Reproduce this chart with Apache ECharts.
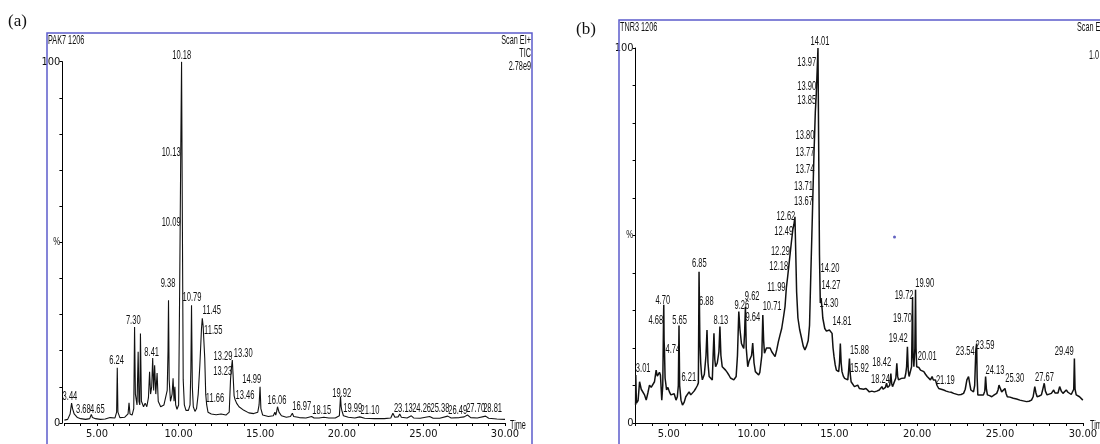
<!DOCTYPE html>
<html><head><meta charset="utf-8">
<script src="https://cdn.jsdelivr.net/npm/echarts@6/dist/echarts.min.js"></script>
<style>html,body{margin:0;padding:0;background:#fff}#c{width:1100px;height:444px}</style>
</head><body><div id="c"></div>
<script>
// ---- data: [retention time (min), relative abundance (%)] ----
const traceA = [
[3.0,0.8],[3.2,1.0],[3.35,2.5],[3.44,5.5],[3.5,4.0],[3.6,2.5],[3.68,2.0],[3.8,1.5],[4.0,1.2],[4.3,1.0],[4.55,1.2],[4.65,2.4],[4.72,1.5],[4.9,1.2],[5.2,1.0],[5.5,1.1],[5.8,1.5],[5.9,1.3],[6.1,1.4],[6.2,3],[6.24,15.3],[6.28,3],[6.4,1.5],[6.7,1.6],[6.9,2.5],[6.96,5.6],[7.02,2.5],[7.15,2.2],[7.25,4],[7.30,26.6],[7.35,8],[7.45,5],[7.52,19.7],[7.57,6],[7.62,5],[7.66,24.8],[7.72,6],[7.85,4.5],[7.95,5.5],[8.05,4.5],[8.15,7],[8.22,14.2],[8.28,8],[8.35,10],[8.41,18],[8.47,9],[8.53,16],[8.6,8],[8.68,13.8],[8.75,6],[8.9,4.5],[9.0,4],[9.1,5],[9.2,7],[9.3,9],[9.35,20],[9.38,34],[9.42,12],[9.5,6],[9.6,8],[9.66,12.4],[9.72,6],[9.77,10],[9.82,5],[9.9,3.8],[10.0,5],[10.05,30],[10.09,52],[10.13,75],[10.18,100],[10.23,55],[10.28,12],[10.35,5],[10.45,3.5],[10.6,3.5],[10.7,5],[10.75,15],[10.79,32.6],[10.84,10],[10.9,4.5],[11.0,3.2],[11.1,4],[11.2,8],[11.3,16],[11.4,26],[11.45,29],[11.5,27],[11.55,26.5],[11.6,18],[11.66,8],[11.72,5],[11.8,3],[12.0,2.5],[12.3,2.3],[12.6,2.5],[12.9,2.2],[13.1,3],[13.18,12],[13.23,15],[13.29,17.4],[13.33,14],[13.4,7.5],[13.46,6.5],[13.55,5.5],[13.7,4.5],[14.0,3.5],[14.3,2.8],[14.6,2.6],[14.85,3],[14.93,5],[14.99,10],[15.04,4],[15.15,2.2],[15.5,1.8],[15.8,2.0],[15.9,3],[15.95,2.2],[16.0,3],[16.06,4.5],[16.15,3],[16.3,2],[16.6,1.6],[16.85,1.8],[16.97,2.7],[17.05,1.8],[17.4,1.5],[17.8,1.4],[18.15,1.8],[18.3,1.4],[18.6,1.4],[18.9,1.6],[19.2,1.4],[19.6,1.4],[19.85,2],[19.92,7.3],[19.96,4.5],[20.0,3.5],[20.1,2],[20.4,1.6],[20.8,1.4],[21.1,1.7],[21.4,1.3],[22.0,1.2],[22.6,1.2],[23.0,1.4],[23.13,2.7],[23.25,1.6],[23.45,1.7],[23.55,2.5],[23.65,1.6],[24.0,1.4],[24.26,2.0],[24.4,1.4],[24.8,1.3],[25.38,1.8],[25.6,1.3],[26.0,1.3],[26.49,1.9],[26.7,1.4],[27.2,1.5],[27.5,1.7],[27.70,2.2],[27.9,1.5],[28.3,1.4],[28.81,1.9],[29.0,1.3],[29.5,1.1],[30.0,1.0]
];
const traceB = [
[3.0,4.8],[3.01,12.8],[3.05,5.3],[3.15,6],[3.24,11],[3.34,9],[3.44,8.8],[3.54,7.5],[3.64,6.1],[3.74,8],[3.84,10.1],[3.94,9.5],[4.04,9.7],[4.14,11],[4.24,14.1],[4.31,12.5],[4.38,12],[4.44,13.5],[4.5,12.8],[4.58,6.1],[4.64,10],[4.68,25],[4.70,31.5],[4.72,22],[4.74,20],[4.78,12],[4.87,8.8],[4.95,9.5],[5.04,8.3],[5.13,7.5],[5.23,7],[5.33,7.8],[5.44,6.1],[5.52,7],[5.58,10],[5.62,26],[5.66,10],[5.74,6.1],[5.83,4.8],[5.93,5.5],[6.03,7],[6.13,6.5],[6.23,8.3],[6.33,7.5],[6.43,8],[6.53,8.5],[6.63,9.2],[6.73,10],[6.79,10.7],[6.83,40.3],[6.88,22],[6.93,16],[6.98,13],[7.03,11.5],[7.15,13],[7.25,18],[7.31,24.8],[7.37,16],[7.44,12.4],[7.53,12],[7.63,11.5],[7.68,18],[7.73,23.9],[7.78,17],[7.83,15],[7.93,16],[8.03,19],[8.09,25.7],[8.15,18],[8.23,15],[8.33,15.5],[8.43,14.1],[8.53,13.5],[8.63,12.8],[8.73,12],[8.83,11.8],[8.93,11.5],[9.07,12.4],[9.15,18],[9.23,29.7],[9.3,25],[9.39,21.2],[9.46,20.5],[9.53,19.9],[9.58,24],[9.63,31],[9.68,20],[9.77,15],[9.85,16.5],[9.93,16],[10.0,18],[10.07,21.3],[10.15,16],[10.23,13.7],[10.33,14],[10.43,12.8],[10.5,13.5],[10.56,13.7],[10.62,18],[10.68,28.8],[10.73,22],[10.78,18.6],[10.9,20],[11.02,19.5],[11.12,20],[11.22,19],[11.32,18.5],[11.42,17.7],[11.52,19.5],[11.62,21.7],[11.72,23.5],[11.82,25.2],[11.92,28],[12.02,31],[12.1,36],[12.18,39],[12.29,43.5],[12.4,48],[12.49,51.5],[12.56,53],[12.62,55],[12.67,45],[12.72,35],[12.8,28],[12.9,25],[13.02,22.6],[13.12,20.5],[13.22,19.5],[13.32,20.5],[13.42,22],[13.5,26],[13.58,40],[13.64,50],[13.67,55],[13.71,62],[13.74,67],[13.77,72],[13.80,76],[13.85,83],[13.90,87],[13.97,95],[14.01,100],[14.05,75],[14.1,45],[14.15,32],[14.2,33],[14.27,30],[14.3,28],[14.42,25.2],[14.52,24.5],[14.62,24.3],[14.7,24.8],[14.78,25.2],[14.86,23.9],[14.92,20],[14.98,17.7],[15.05,15.5],[15.12,14.1],[15.2,13.8],[15.26,13.7],[15.31,16],[15.36,21.2],[15.41,16],[15.46,13.7],[15.54,12.5],[15.62,11.9],[15.72,11.8],[15.81,11.5],[15.86,14],[15.91,17.2],[15.96,13],[16.01,11],[16.11,10.5],[16.21,9.7],[16.31,9.5],[16.41,10.1],[16.51,9.2],[16.61,8.8],[16.76,9],[16.91,9.2],[17.01,8.8],[17.11,8.3],[17.26,8.5],[17.41,8.3],[17.56,8.5],[17.71,8.8],[17.8,9],[17.87,9.7],[17.94,9],[18.01,9.2],[18.08,9.5],[18.15,10.6],[18.21,9.5],[18.27,9.2],[18.34,10],[18.41,13.2],[18.46,10.5],[18.51,9.7],[18.58,10.5],[18.65,11],[18.71,12],[18.77,15.9],[18.82,12.5],[18.87,11.5],[18.96,12],[19.05,11.9],[19.11,11.5],[19.17,11.5],[19.25,12],[19.31,13.2],[19.36,15],[19.41,20.3],[19.46,14],[19.51,12.4],[19.6,12.8],[19.66,15],[19.70,27.5],[19.72,33.6],[19.75,18],[19.8,15],[19.86,20],[19.90,35.5],[19.93,20],[19.97,15],[20.01,15.5],[20.1,14.8],[20.2,14.1],[20.3,14],[20.4,13.7],[20.5,13],[20.6,12.4],[20.7,12],[20.8,11.5],[20.9,12.4],[20.97,11.5],[21.04,11],[21.1,11.5],[21.14,11.9],[21.2,10],[21.3,9.2],[21.45,9],[21.6,8.8],[21.75,8.5],[21.9,8.3],[22.05,8.2],[22.2,7.9],[22.35,7.7],[22.5,7.5],[22.65,7.6],[22.8,7.9],[22.9,9],[23.0,11.5],[23.1,12.4],[23.17,10.5],[23.24,8.8],[23.32,8.4],[23.4,8.3],[23.47,10],[23.54,19.5],[23.59,21.2],[23.62,12],[23.66,7.5],[23.8,7.5],[23.9,7.4],[24.0,7.5],[24.08,8.5],[24.13,12.4],[24.18,9],[24.24,7.5],[24.37,7.3],[24.5,7],[24.65,7.5],[24.8,7.9],[24.88,8.8],[24.94,10.1],[25.02,9.2],[25.1,8.3],[25.2,8.5],[25.3,9.2],[25.37,7.8],[25.44,7],[25.6,6.9],[25.8,6.6],[26.0,6.4],[26.2,6.1],[26.4,5.9],[26.6,5.7],[26.75,5.8],[26.9,6.1],[27.0,7],[27.1,9.7],[27.17,8],[27.24,7],[27.37,7.2],[27.5,7.5],[27.6,8],[27.67,10.6],[27.74,8.5],[27.84,7.5],[27.97,7.7],[28.1,7.9],[28.17,8.2],[28.24,8.8],[28.32,8],[28.4,7.5],[28.5,8],[28.6,9.7],[28.7,8.5],[28.8,7.9],[28.9,8.2],[29.0,8.8],[29.1,8.2],[29.2,7.9],[29.3,7.6],[29.4,7.5],[29.45,9],[29.49,17.2],[29.53,9],[29.6,7.5],[29.7,7.3],[29.8,7],[29.9,6.5],[30.0,6.1]
];
// peak labels: [time, abundance where the label sits, text]
const labelsA = [
[10.19,101.9,'10.18'],[9.54,75.0,'10.13'],[9.54,55.6,'10.09'],[9.35,38.7,'9.38'],[10.82,34.9,'10.79'],
[7.22,28.3,'7.30'],[6.20,17.4,'6.24'],[8.35,19.7,'8.41'],[12.03,31.3,'11.45'],[12.12,25.7,'11.55'],
[12.23,6.9,'11.66'],[12.72,18.4,'13.29'],[13.96,19.4,'13.30'],[12.70,14.2,'13.23'],[14.07,7.7,'13.46'],
[14.48,12.1,'14.99'],[16.03,6.4,'16.06'],[3.34,7.3,'3.44'],[4.16,3.9,'3.68'],[5.02,3.9,'4.65'],
[17.54,4.5,'16.97'],[18.77,3.6,'18.15'],[19.99,8.2,'19.92'],[20.67,4.1,'19.99'],[21.73,3.6,'21.10'],
[23.77,4.2,'23.13'],[24.89,4.2,'24.26'],[26.01,4.2,'25.38'],[27.10,3.6,'26.49'],[28.20,4.2,'27.70'],[29.24,4.2,'28.81']
];
const labelsB = [
[14.13,101.7,'14.01'],[13.33,96.3,'13.97'],[13.33,89.7,'13.90'],[13.33,86.1,'13.85'],[13.23,76.8,'13.80'],
[13.23,72.3,'13.77'],[13.23,67.7,'13.74'],[13.13,63.0,'13.71'],[13.13,59.0,'13.67'],[12.07,55.0,'12.62'],
[11.94,51.2,'12.49'],[11.74,45.9,'12.29'],[11.64,41.7,'12.18'],[11.50,36.3,'11.99'],[6.85,42.6,'6.85'],
[4.64,32.8,'4.70'],[4.22,27.5,'4.68'],[5.66,27.5,'5.65'],[5.25,19.7,'4.74'],[3.46,14.6,'3.01'],
[6.21,12.3,'6.21'],[7.27,32.5,'6.88'],[9.41,31.5,'9.26'],[8.15,27.5,'8.13'],[10.04,33.7,'9.62'],
[10.08,28.3,'9.64'],[11.24,31.0,'10.71'],[14.73,41.3,'14.20'],[14.79,36.8,'14.27'],[14.67,32.0,'14.30'],
[15.46,27.0,'14.81'],[16.52,19.5,'15.88'],[16.52,14.6,'15.92'],[17.86,16.3,'18.42'],[17.78,11.7,'18.24'],
[18.86,22.6,'19.42'],[19.11,27.9,'19.70'],[19.21,34.1,'19.72'],[20.45,37.3,'19.90'],[20.61,17.7,'20.01'],
[21.70,11.5,'21.19'],[22.90,19.0,'23.54'],[24.09,20.8,'23.59'],[24.69,14.1,'24.13'],[25.89,11.9,'25.30'],
[27.68,12.3,'27.67'],[28.88,19.0,'29.49']
];
const strayDotB = [[18.63,49.6]];
const xMajorTicks = [5,10,15,20,25,30];
const yShownTicks = [0,100];

const narrow = '"Liberation Sans Narrow","DejaVu Sans Condensed","Liberation Sans",sans-serif';
const frameColor = '#5c5ccc';
const SX = 0.56;

function labelSeries(labels, idx){
  return {
    type:'custom', xAxisIndex:idx, yAxisIndex:idx, silent:true, clip:false, z:5,
    data: labels.map(d=>[d[0],d[1]]),
    renderItem:function(params, api){
      const d = labels[params.dataIndex];
      const pt = api.coord([d[0], d[1]]);
      return {type:'text', x:pt[0], y:pt[1], scaleX:SX,
        style:{text:d[2], x:0, y:0, align:'center', verticalAlign:'middle',
          font:'13.5px "Liberation Sans", Arial, sans-serif', fill:'#111'}};
    }
  };
}
function xAxisCfg(idx){
  return {gridIndex:idx, type:'value', min:3, max:30, interval:1,
    axisLine:{show:true, onZero:false, lineStyle:{color:'#000', width:1}},
    axisTick:{show:true, length:3, lineStyle:{color:'#000', width:1}},
    axisLabel:{margin:6, color:'#111', fontSize:11, fontFamily:narrow,
      formatter:v=> xMajorTicks.indexOf(v)>=0 ? v.toFixed(2) : ''},
    splitLine:{show:false}};
}
function yAxisCfg(idx, off){
  return {gridIndex:idx, type:'value', min:0, max:100, interval:10, offset:off,
    axisLine:{show:true, lineStyle:{color:'#000', width:1}},
    axisTick:{show:true, length:3, lineStyle:{color:'#000', width:1}},
    axisLabel:{margin:2, color:'#111', fontSize:11, fontFamily:narrow,
      formatter:v=> yShownTicks.indexOf(v)>=0 ? String(v) : ''},
    splitLine:{show:false}};
}
function txt(x,y,t,align,opts){
  opts = opts||{};
  return {type:'text', x:x, y:y, scaleX: opts.sx===undefined?SX:opts.sx, z:10,
    style:{text:t, x:0, y:0, align:align, verticalAlign:'middle',
      font: opts.font || '13px "Liberation Sans", Arial, sans-serif', fill:'#111'}};
}

const chart = echarts.init(document.getElementById('c'), null, {renderer:'canvas'});
chart.setOption({
  animation:false,
  backgroundColor:'#fff',
  grid:[
    {left:64.4, top:61.7, width:440.6, height:361.3},
    {left:635.6, top:48, width:451.4, height:375}
  ],
  xAxis:[xAxisCfg(0), xAxisCfg(1)],
  yAxis:[yAxisCfg(0,2), yAxisCfg(1,0)],
  series:[
    {type:'line', xAxisIndex:0, yAxisIndex:0, data:traceA, showSymbol:false, silent:true,
      lineStyle:{color:'#111', width:1.1}},
    {type:'line', xAxisIndex:1, yAxisIndex:1, data:traceB, showSymbol:false, silent:true,
      lineStyle:{color:'#111', width:1.5}},
    labelSeries(labelsA,0),
    labelSeries(labelsB,1),
    {type:'scatter', xAxisIndex:1, yAxisIndex:1, data:strayDotB, symbolSize:3, silent:true,
      itemStyle:{color:'#3b3bb0'}}
  ],
  graphic:[
    {type:'rect', shape:{x:47, y:33, width:485, height:460}, style:{fill:null, stroke:frameColor, lineWidth:1.5}, z:1},
    {type:'rect', shape:{x:619, y:20, width:520, height:460}, style:{fill:null, stroke:frameColor, lineWidth:1.5}, z:1},
    txt(8,22,'(a)','left',{sx:1, font:'17px "Liberation Serif", "Times New Roman", serif'}),
    txt(576,30,'(b)','left',{sx:1, font:'17px "Liberation Serif", "Times New Roman", serif'}),
    txt(48,40,'PAK7 1206','left'),
    txt(531,40,'Scan EI+','right'),
    txt(531,53,'TIC','right'),
    txt(531,66,'2.78e9','right'),
    txt(510,425,'Time','left'),
    txt(60,242,'%','right',{sx:0.7, font:'11px "Liberation Sans", Arial, sans-serif'}),
    txt(620,27,'TNR3 1206','left'),
    txt(1077,27,'Scan EI+','left'),
    txt(1089,55,'1.0','left'),
    txt(1090,425,'Time','left'),
    txt(633,235,'%','right',{sx:0.7, font:'11px "Liberation Sans", Arial, sans-serif'})
  ]
});
</script></body></html>
